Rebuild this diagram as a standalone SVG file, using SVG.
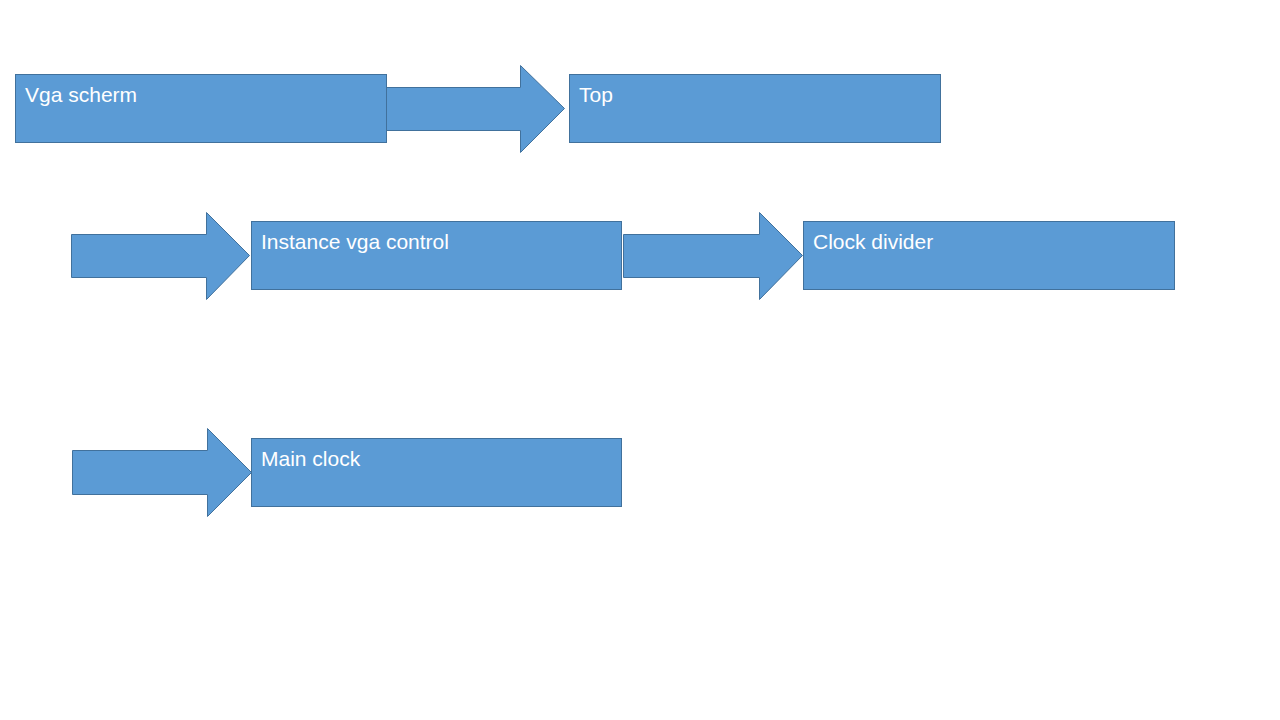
<svg xmlns="http://www.w3.org/2000/svg" width="1280" height="720" viewBox="0 0 1280 720">
<style>
.shape{fill:#5B9BD5;stroke:#41719C;stroke-width:1}
.lbl{font-family:"Liberation Sans","Open Sans",sans-serif;font-size:21px;fill:#FFFFFF}
</style>
<rect width="1280" height="720" fill="#FFFFFF"/>
<g id="connectors">
<polygon class="shape" points="386.5,87.5 520.5,87.5 520.5,65.5 564.5,108.5 520.5,152.5 520.5,130.5 386.5,130.5"/>
<polygon class="shape" points="71.5,234.5 206.5,234.5 206.5,212.5 249.5,255.5 206.5,299.5 206.5,277.5 71.5,277.5"/>
<polygon class="shape" points="623.5,234.5 759.5,234.5 759.5,212.5 802.5,255.5 759.5,299.5 759.5,277.5 623.5,277.5"/>
<polygon class="shape" points="72.5,450.5 207.5,450.5 207.5,428.5 251.5,472.5 207.5,516.5 207.5,494.5 72.5,494.5"/>
</g>
<g id="vga-scherm">
<rect class="shape" x="15.5" y="74.5" width="371" height="68"/>
<text class="lbl" x="25" y="102">Vga scherm</text>
</g>
<g id="top">
<rect class="shape" x="569.5" y="74.5" width="371" height="68"/>
<text class="lbl" x="579" y="102">Top</text>
</g>
<g id="instance-vga-control">
<rect class="shape" x="251.5" y="221.5" width="370" height="68"/>
<text class="lbl" x="261" y="249">Instance vga control</text>
</g>
<g id="clock-divider">
<rect class="shape" x="803.5" y="221.5" width="371" height="68"/>
<text class="lbl" x="813" y="249">Clock divider</text>
</g>
<g id="main-clock">
<rect class="shape" x="251.5" y="438.5" width="370" height="68"/>
<text class="lbl" x="261" y="466">Main clock</text>
</g>
</svg>
